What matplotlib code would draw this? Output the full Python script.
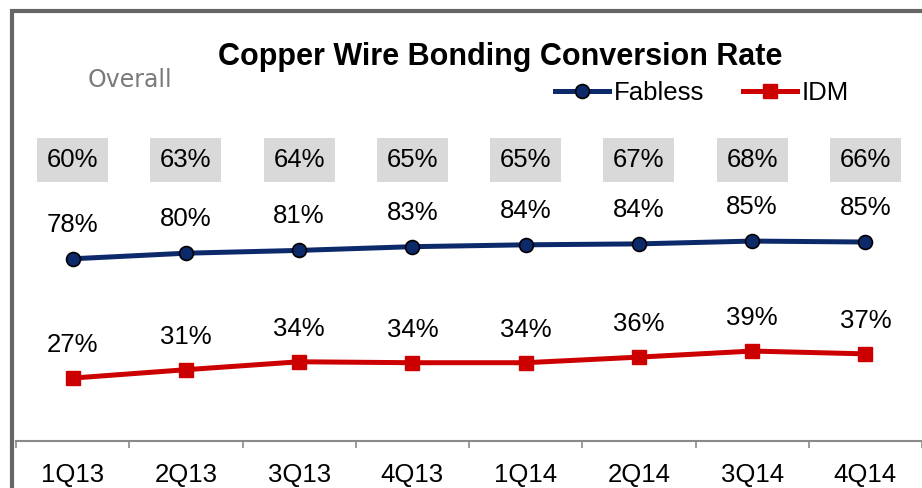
import numpy as np
import matplotlib.pyplot as plt
from matplotlib.patches import Rectangle

plt.rcParams['font.family'] = ['Liberation Sans', 'DejaVu Sans']

# data
quarters = ['1Q13', '2Q13', '3Q13', '4Q13', '1Q14', '2Q14', '3Q14', '4Q14']
fabless = [78, 80, 81, 83, 84, 84, 85, 85]
fabless_plot = [78.2, 80.6, 81.8, 83.4, 84.2, 84.6, 85.8, 85.4]
idm = [27, 31, 34, 34, 34, 36, 39, 37]
idm_plot = [27.0, 30.6, 34.0, 33.6, 33.6, 36.0, 38.6, 37.4]
overall = [60, 63, 64, 65, 65, 67, 68, 66]

W, H = 922, 488
fig = plt.figure(figsize=(W / 100, H / 100), dpi=100)

# outer frame
fig.patches.append(Rectangle((12 / W, -0.1), 1.2, 1.1 - 10.5 / H, transform=fig.transFigure,
                             fill=False, edgecolor='#666666', linewidth=3.0))

ax = fig.add_axes([16 / W, 1 - 441 / H, 1 - 16 / W, (441 - 20) / H])
x = np.arange(len(quarters))
ax.set_xlim(-0.5, 7.5)
ax.set_ylim(0, 421 / 2.33)

ax.plot(x, fabless_plot, color='#0c2a6a', lw=3.6, marker='o', ms=10,
        mfc='#0c2a6a', mec='black', mew=1.2, label='Fabless', zorder=3)
ax.plot(x, idm_plot, color='#cc0000', lw=3.6, marker='s', ms=10,
        mfc='#cc0000', mec='#cc0000', label='IDM', zorder=3)

fs = 18.5
for i in range(len(quarters)):
    ax.annotate(f'{fabless[i]}%', (x[i], fabless_plot[i]), xytext=(0, 34),
                textcoords='offset pixels', ha='center', va='center', fontsize=fs)
    ax.annotate(f'{idm[i]}%', (x[i], idm_plot[i]), xytext=(0, 33),
                textcoords='offset pixels', ha='center', va='center', fontsize=fs)
    ax.text(x[i], (441 - 160) / 2.33, f'{overall[i]}%', ha='center', va='center', fontsize=fs,
            bbox=dict(boxstyle='square,pad=0.38', facecolor='#d9d9d9', edgecolor='none'))

for s in ['top', 'right', 'left']:
    ax.spines[s].set_visible(False)
ax.spines['bottom'].set_color('#8a8a8a')
ax.spines['bottom'].set_linewidth(1.5)
ax.set_yticks([])
ax.set_xticks(x)
ax.set_xticklabels(quarters, fontsize=fs)
ax.tick_params(axis='x', which='major', length=0, pad=16)
ax.set_xticks(np.arange(-0.5, 8, 1), minor=True)
ax.tick_params(axis='x', which='minor', length=5, width=1.2, color='#8a8a8a', direction='out')

fig.text(500 / W, 1 - 57 / H, 'Copper Wire Bonding Conversion Rate', ha='center', va='center',
         fontsize=22, fontweight='bold')
fig.text(130 / W, 1 - 80 / H, 'Overall', ha='center', va='center', fontsize=17,
         color='#7a7a7a', family=['DejaVu Sans'])

fig.legend(loc='center left', bbox_to_anchor=(555 / W, 1 - 93 / H), ncol=2, frameon=False,
           fontsize=fs, handlelength=2.1, handletextpad=0.2, columnspacing=1.5, borderpad=0,
           borderaxespad=0)

fig.savefig('out.png', dpi=100)
